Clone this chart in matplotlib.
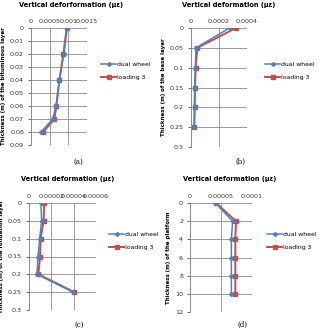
import matplotlib

matplotlib.use("Agg")
import matplotlib.pyplot as plt  # noqa: E402

# (a) bituminous layer
depth_a = [0, 0.02, 0.04, 0.06, 0.07, 0.08]
dual_a = [0.00097, 0.00088, 0.00076, 0.00067, 0.00058, 0.00027]
load_a = [0.000956, 0.000866, 0.00076, 0.00068, 0.000625, 0.00033]

# (b) base layer
depth_b = [0, 0.05, 0.1, 0.15, 0.2, 0.25]
dual_b = [0.000275, 0.000036, 0.000031, 0.000027, 0.000025, 0.000023]
load_b = [0.000321, 0.0000455, 0.0000335, 0.0000287, 0.000026, 0.000024]

# (c) foundation layer
depth_c = [0, 0.05, 0.1, 0.15, 0.2, 0.25]
dual_c = [0.0000107, 0.0000113, 0.0000096, 0.000008, 0.0000072, 0.0000394]
load_c = [0.0000137, 0.0000131, 0.0000104, 0.0000099, 0.0000084, 0.0000406]

# (d) platform
depth_d = [0, 2, 4, 6, 8, 10]
dual_d = [0.0000409, 0.0000688, 0.0000667, 0.0000667, 0.0000667, 0.0000667]
load_d = [0.0000419, 0.0000742, 0.0000731, 0.0000731, 0.0000731, 0.0000731]

W, H = 319, 330
BLUE = "#4F81BD"
RED = "#C0504D"
FS = 4.6
plt.rcParams["font.family"] = ["Liberation Sans Narrow", "DejaVu Sans"]

panels = [
    dict(depth=depth_a, dual=dual_a, load=load_a,
         box=(31, 87, 28, 145), xmax=0.0015,
         xticks=[0, 0.0005, 0.001, 0.0015],
         xlabels=["0", "0.0005", "0.001", "0.0015"],
         ymax=0.09, ystep=0.01,
         ylabels=["0", "0.01", "0.02", "0.03", "0.04", "0.05", "0.06", "0.07", "0.08", "0.09"],
         title="Vertical deforformation (\u03bc\u03b5)", title_xy=(71, 5),
         ylabel="Thickness (m) of the bituminous layer",
         legend_x=101, legend_y=66, caption="(a)", caption_xy=(78, 162)),
    dict(depth=depth_b, dual=dual_b, load=load_b,
         box=(191, 247, 28, 147), xmax=0.0004,
         xticks=[0, 0.0002, 0.0004],
         xlabels=["0", "0.0002", "0.0004"],
         ymax=0.3, ystep=0.05,
         ylabels=["0", "0.05", "0.1", "0.15", "0.2", "0.25", "0.3"],
         title="Vertical deformation (\u03bc\u03b5)", title_xy=(229, 5),
         ylabel="Thickness (m) of the base layer",
         legend_x=265, legend_y=66, caption="(b)", caption_xy=(240, 162)),
    dict(depth=depth_c, dual=dual_c, load=load_c,
         box=(29, 96, 203, 310), xmax=0.00006,
         xticks=[0, 0.00002, 0.00004, 0.00006],
         xlabels=["0", "0.00002", "0.00004", "0.00006"],
         ymax=0.3, ystep=0.05,
         ylabels=["0", "0.05", "0.1", "0.15", "0.2", "0.25", "0.3"],
         title="Vertical deformation (\u03bc\u03b5)", title_xy=(68, 179),
         ylabel="Thickness (m) of the fondation layer",
         legend_x=109, legend_y=236, caption="(c)", caption_xy=(79, 325)),
    dict(depth=depth_d, dual=dual_d, load=load_d,
         box=(190, 252, 203, 312), xmax=0.0001,
         xticks=[0, 0.00005, 0.0001],
         xlabels=["0", "0.00005", "0.0001"],
         ymax=12, ystep=2,
         ylabels=["0", "2", "4", "6", "8", "10", "12"],
         title="Vertical deformation (\u03bc\u03b5)", title_xy=(230, 179),
         ylabel="Thickness (m) of the platform",
         legend_x=267, legend_y=236, caption="(d)", caption_xy=(242, 325)),
]

fig = plt.figure(figsize=(W / 100, H / 100), dpi=100)

for p in panels:
    left, right, top, bottom = p["box"]
    ax = fig.add_axes([left / W, 1 - bottom / H, (right - left) / W, (bottom - top) / H])
    ax.plot(p["dual"], p["depth"], color=BLUE, lw=1.1, marker="D", ms=2, zorder=3,
            label="dual wheel")
    ax.plot(p["load"], p["depth"], color=RED, lw=1.4, marker="s", ms=3.5, zorder=2,
            label="loading 3")
    ax.set_xlim(0, p["xmax"])
    ax.set_ylim(p["ymax"], 0)
    ax.xaxis.tick_top()
    ax.set_xticks(p["xticks"])
    ax.set_xticklabels(p["xlabels"])
    n = len(p["ylabels"])
    ax.set_yticks([i * p["ystep"] for i in range(n)])
    ax.set_yticklabels(p["ylabels"])
    ax.tick_params(axis="x", length=0, pad=3, labelsize=FS, colors="#333333")
    ax.tick_params(axis="y", length=2, width=0.5, pad=3, labelsize=FS,
                   colors="#333333", direction="out")
    ax.grid(True, color="#8c8c8c", lw=0.6)
    ax.set_axisbelow(True)
    for side in ["top", "right", "bottom"]:
        ax.spines[side].set_visible(False)
    ax.spines["left"].set_color("#8c8c8c")
    ax.spines["left"].set_linewidth(0.6)
    ax.set_ylabel(p["ylabel"], fontsize=4.0, fontweight="bold", labelpad=3)

    fig.text(p["title_xy"][0] / W, 1 - p["title_xy"][1] / H, p["title"],
             ha="center", va="center", fontsize=4.8, fontweight="bold")
    fig.text(p["caption_xy"][0] / W, 1 - p["caption_xy"][1] / H, p["caption"],
             ha="center", va="center", fontsize=5, family="DejaVu Serif")
    fig.legend(*ax.get_legend_handles_labels(),
               loc="upper left",
               bbox_to_anchor=(p["legend_x"] / W, 1 - (p["legend_y"] - 4) / H),
               frameon=False, fontsize=4.4, handlelength=2.5, handletextpad=0.1,
               borderaxespad=0, borderpad=0, labelspacing=1.2)

fig.savefig("out.png", dpi=100)
